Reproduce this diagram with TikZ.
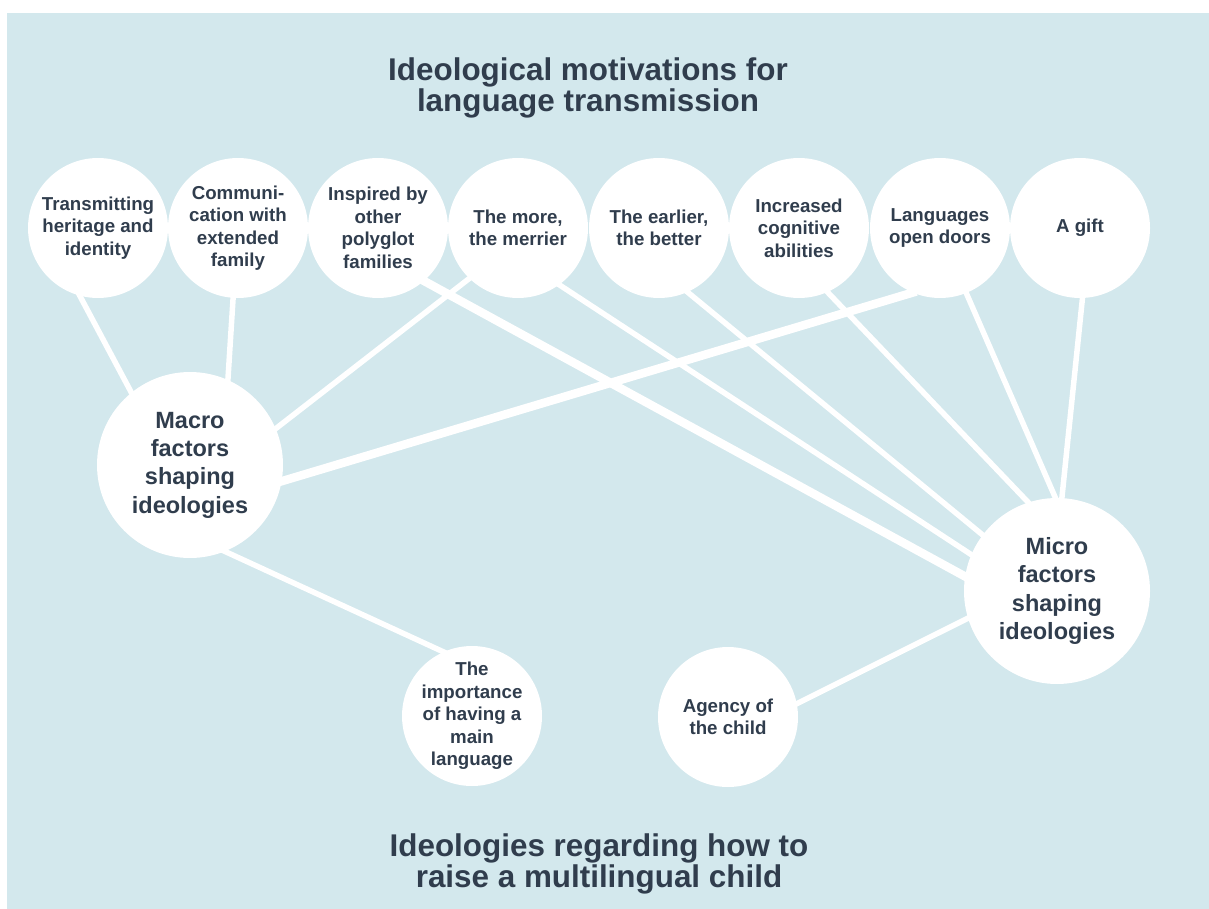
\documentclass[tikz,border=0pt]{standalone}
\usepackage{fontspec}
\setmainfont{Liberation Sans}
\definecolor{bg}{RGB}{211,232,237}
\definecolor{ink}{RGB}{48,61,77}
\pgfdeclarelayer{back}
\pgfsetlayers{back,main}
\begin{document}
\begin{tikzpicture}[x=1pt,y=-1pt,
  bubble/.style={circle,fill=white,inner sep=0pt,minimum size=140pt},
  hub/.style={circle,fill=white,inner sep=0pt,minimum size=186pt},
  smalltxt/.style={text=ink,font=\bfseries\fontsize{18.7}{22.5}\selectfont,align=center,inner sep=0pt},
  hubtxt/.style={text=ink,font=\bfseries\fontsize{23.5}{28.3}\selectfont,align=center,inner sep=0pt},
  titletxt/.style={text=ink,font=\bfseries\fontsize{31.4}{29}\selectfont,align=center,inner sep=0pt},
  link/.style={draw=white,line width=5.5pt,shorten <=-4pt,shorten >=-4pt},
  biglink/.style={draw=white,line width=8.5pt,shorten <=-4pt,shorten >=-4pt}]
\useasboundingbox (0,0) rectangle (1209,909);

% top row of motivations
\node[bubble] (trans)   at (98,228)  {};
\node[bubble] (comm)    at (238,228) {};
\node[bubble] (insp)    at (378,228) {};
\node[bubble] (more)    at (518,228) {};
\node[bubble] (earlier) at (659,228) {};
\node[bubble] (cogn)    at (799,228) {};
\node[bubble] (doors)   at (940,228) {};
\node[bubble] (gift)    at (1080,228) {};

% hubs
\node[hub] (macro) at (190,465) {};
\node[hub] (micro) at (1057,591) {};

% lower row
\node[bubble] (mainlang) at (472,716) {};
\node[bubble] (agency)   at (728,717) {};

% labels
\node[smalltxt] (transtxt)   at (trans)   {Transmitting\\heritage and\\identity};
\node[smalltxt] (commtxt)    at (comm)    {Communi-\\cation with\\extended\\family};
\node[smalltxt] (insptxt)    at (insp)    {Inspired by\\other\\polyglot\\families};
\node[smalltxt] (moretxt)    at (more)    {The more,\\the merrier};
\node[smalltxt] (earliertxt) at (earlier) {The earlier,\\the better};
\node[smalltxt] (cogntxt)    at (cogn)    {Increased\\cognitive\\abilities};
\node[smalltxt] (doorstxt)   at (doors)   {Languages\\open doors};
\node[smalltxt] (gifttxt)    at (gift)    {A gift};
\node[hubtxt] (macrotxt) at (macro) {Macro\\factors\\shaping\\ideologies};
\node[hubtxt] (microtxt) at (micro) {Micro\\factors\\shaping\\ideologies};
\node[smalltxt] (mainlangtxt) at (mainlang) {The\\importance\\of having a\\main\\language};
\node[smalltxt] (agencytxt)   at (agency)   {Agency of\\the child};

\node[titletxt] (toptitle) at (588,88) {Ideological motivations for\\language transmission};
\node[titletxt] (bottitle) at (599,864) {Ideologies regarding how to\\raise a multilingual child};

\begin{pgfonlayer}{back}
  \fill[white] (0,0) rectangle (1209,909);
  \fill[bg] (7,13) rectangle (1209,909);
  % links to the macro hub
  \draw[link] (trans.255.6) -- (macro.129.6);
  \draw[link] (comm.266.7) -- (macro.66.1);
  \draw[link] (macro.23.6) -- (more.226);
  \draw[biglink] (macro.350.7) -- (doors.247.4);
  \draw[link] (macro.292) -- (mainlang.114.4);
  % links to the micro hub
  \draw[biglink] (insp.311.6) -- (micro.171);
  \draw[link] (more.306.4) -- (micro.157);
  \draw[link] (earlier.294.1) -- (micro.143);
  \draw[link] (cogn.294.4) -- (micro.108);
  \draw[link] (doors.292.6) -- (micro.91);
  \draw[link] (gift.272.5) -- (micro.87);
  \draw[link] (agency.11.3) -- (micro.197.6);
\end{pgfonlayer}
\end{tikzpicture}
\end{document}
